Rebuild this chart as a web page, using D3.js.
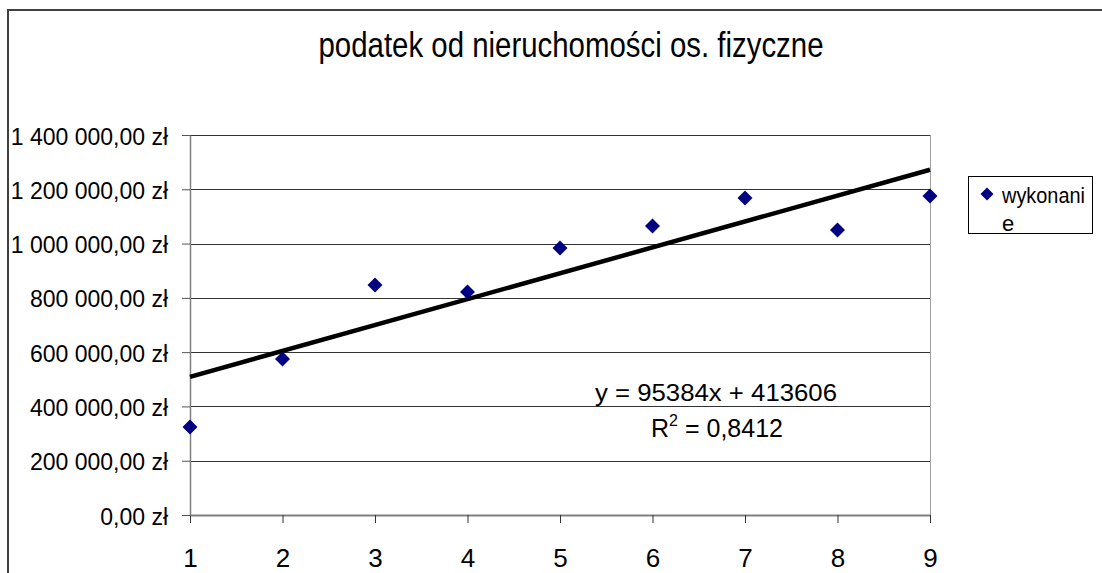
<!DOCTYPE html>
<html>
<head>
<meta charset="utf-8">
<script src="https://cdn.jsdelivr.net/npm/d3@7"></script>
<style>
  html, body { margin: 0; padding: 0; background: #fff; }
  svg { display: block; font-family: "Liberation Sans", Arial, sans-serif; }
</style>
</head>
<body>
<svg width="1102" height="573"></svg>
<script>
// data
var periods = [1, 2, 3, 4, 5, 6, 7, 8, 9];
var wykonanie = [324000, 575000, 847000, 822000, 984000, 1065000, 1168000, 1050000, 1175000];
var yTicks = [0, 200000, 400000, 600000, 800000, 1000000, 1200000, 1400000];
var trendSlope = 95384;
var trendIntercept = 413606;
var trendR2 = "0,8412";
var chartTitle = "podatek od nieruchomości os. fizyczne";
var seriesName = ["wykonani", "e"];

var svg = d3.select("svg");
// plot area (note: "top" is reserved on window, so use plot* names)
var plotLeft = 190, plotRight = 930, plotTop = 135, plotBottom = 515;

// polish currency format: 1 400 000,00 zł
var pl = d3.formatLocale({decimal: ",", thousands: "\u00a0", grouping: [3], currency: ["", " zł"]});
var fmt = pl.format("$,.2f");

var x = d3.scaleLinear().domain([1, 9]).range([plotLeft, plotRight]);
var y = d3.scaleLinear().domain([0, 1400000]).range([plotBottom, plotTop]);

// outer chart border (runs off the picture to the right and bottom)
svg.append("rect")
    .attr("x", 8).attr("y", 10)
    .attr("width", 1200).attr("height", 700)
    .attr("fill", "none")
    .attr("stroke", "#404040")
    .attr("stroke-width", 2);

// title
svg.append("text")
    .attr("x", 571).attr("y", 57)
    .attr("text-anchor", "middle")
    .attr("font-size", 35)
    .attr("textLength", 505)
    .attr("lengthAdjust", "spacingAndGlyphs")
    .text(chartTitle);

// gridlines
svg.append("g").selectAll("line")
    .data(yTicks.filter(function(d) { return d > 0; }))
  .enter().append("line")
    .attr("x1", plotLeft).attr("x2", plotRight)
    .attr("y1", function(d) { return Math.round(y(d)) + 0.5; })
    .attr("y2", function(d) { return Math.round(y(d)) + 0.5; })
    .attr("stroke", "#333")
    .attr("stroke-width", 1);

// right border of plot area
svg.append("line")
    .attr("x1", plotRight + 0.5).attr("x2", plotRight + 0.5)
    .attr("y1", plotTop).attr("y2", plotBottom)
    .attr("stroke", "#a0a0a0");

// x axis
var xAxis = svg.append("g")
    .attr("transform", "translate(0," + plotBottom + ")")
    .call(d3.axisBottom(x).tickValues(periods).tickSize(8).tickSizeOuter(0).tickFormat(d3.format("d")));
xAxis.select(".domain").attr("stroke", "#808080").attr("stroke-width", 2);
xAxis.selectAll(".tick line").attr("stroke", "#333");
xAxis.selectAll(".tick text")
    .attr("dy", null).attr("y", 52)
    .attr("font-size", 26)
    .attr("fill", "#000")
    .attr("font-family", "Liberation Sans, Arial, sans-serif");

// y axis
var yAxis = svg.append("g")
    .attr("transform", "translate(" + plotLeft + ",0)")
    .call(d3.axisLeft(y).tickValues(yTicks).tickSize(8).tickSizeOuter(0).tickFormat(fmt));
yAxis.select(".domain").attr("stroke", "#808080").attr("stroke-width", 1.5);
yAxis.selectAll(".tick line").attr("stroke", "#555");
yAxis.selectAll(".tick text")
    .attr("x", -22).attr("dy", null).attr("y", 9)
    .attr("font-size", 23)
    .attr("fill", "#000")
    .attr("font-family", "Liberation Sans, Arial, sans-serif");

// trend line
var trend = d3.line()
    .x(function(d) { return x(d); })
    .y(function(d) { return y(trendSlope * d + trendIntercept); });
svg.append("path")
    .attr("d", trend([periods[0], periods[periods.length - 1]]))
    .attr("fill", "none")
    .attr("stroke", "#000")
    .attr("stroke-width", 4.5);

// points
var diamond = d3.symbol().type(d3.symbolSquare).size(112);
svg.append("g").selectAll("path")
    .data(periods)
  .enter().append("path")
    .attr("d", diamond)
    .attr("transform", function(d, i) { return "translate(" + x(d) + "," + y(wykonanie[i]) + ") rotate(45)"; })
    .attr("fill", "#000080");

// trend equation
svg.append("text")
    .attr("x", 716).attr("y", 401)
    .attr("text-anchor", "middle")
    .attr("font-size", 23.5)
    .attr("textLength", 242)
    .attr("lengthAdjust", "spacingAndGlyphs")
    .text("y = " + trendSlope + "x + " + trendIntercept);

var r2 = svg.append("text")
    .attr("x", 717).attr("y", 437)
    .attr("text-anchor", "middle")
    .attr("font-size", 25);
r2.append("tspan").text("R");
r2.append("tspan").attr("dy", -11).attr("font-size", 16).text("2");
r2.append("tspan").attr("dy", 11).text(" = " + trendR2);

// legend
svg.append("rect")
    .attr("x", 968.5).attr("y", 176.5)
    .attr("width", 124).attr("height", 57)
    .attr("fill", "#fff")
    .attr("stroke", "#000");
svg.append("path")
    .attr("d", d3.symbol().type(d3.symbolSquare).size(85))
    .attr("transform", "translate(987,194) rotate(45)")
    .attr("fill", "#000080");
svg.append("g").selectAll("text")
    .data(seriesName)
  .enter().append("text")
    .attr("x", 1002)
    .attr("y", function(d, i) { return 203 + i * 28; })
    .attr("font-size", 22)
    .attr("textLength", function(d, i) { return i === 0 ? 83 : null; })
    .attr("lengthAdjust", "spacingAndGlyphs")
    .text(function(d) { return d; });
</script>
</body>
</html>
